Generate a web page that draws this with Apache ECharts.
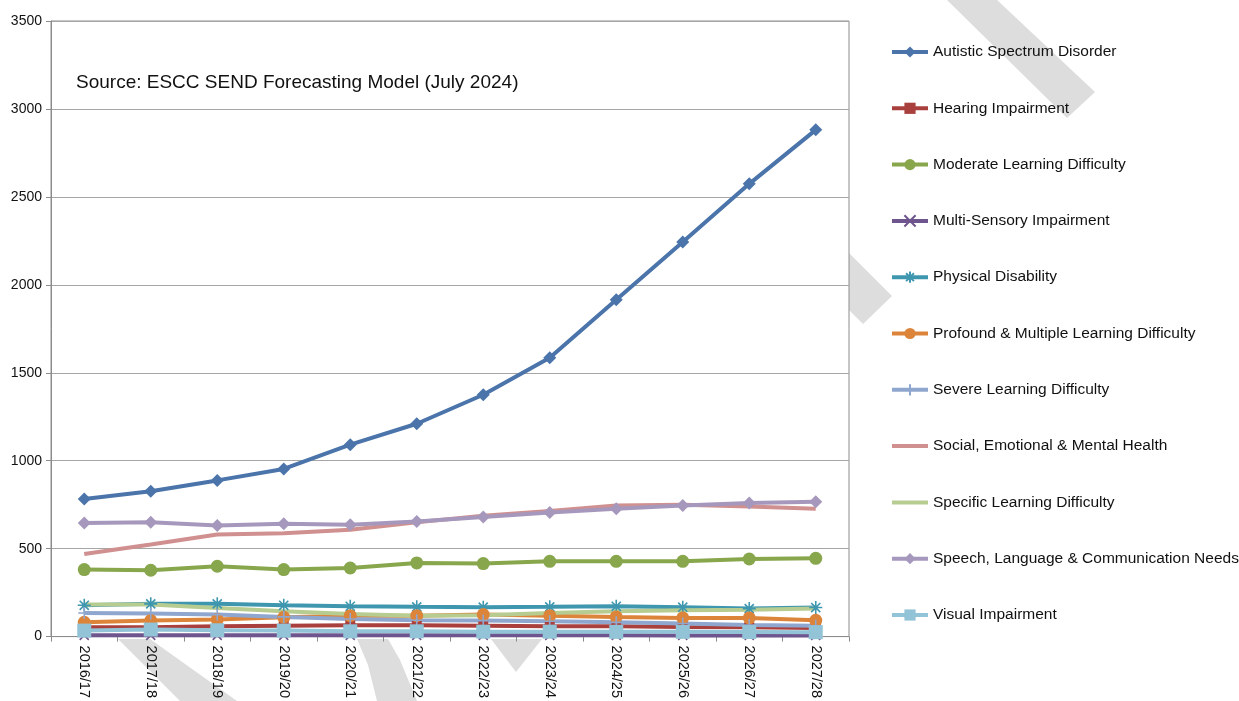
<!DOCTYPE html>
<html>
<head>
<meta charset="utf-8">
<script src="https://cdn.jsdelivr.net/npm/echarts@6/dist/echarts.min.js"></script>
<style>
html,body{margin:0;padding:0;background:#fff;}
#chart{width:1239px;height:701px;}
</style>
</head>
<body>
<div id="chart"></div>
<script>
var categories = ['2016/17','2017/18','2018/19','2019/20','2020/21','2021/22','2022/23','2023/24','2024/25','2025/26','2026/27','2027/28'];
var yTicks = [0, 500, 1000, 1500, 2000, 2500, 3000, 3500];

var asd  = [782, 826, 888, 953, 1091, 1210, 1375, 1585, 1915, 2244, 2574, 2881];
var hi   = [53, 53, 59, 62, 64, 64, 62, 59, 59, 55, 53, 49];
var mld  = [381, 377, 400, 381, 390, 419, 415, 428, 428, 428, 441, 445];
var msi  = [7, 7, 7, 7, 7, 7, 7, 7, 7, 6, 6, 6];
var pd   = [178, 186, 186, 178, 172, 169, 167, 169, 172, 167, 159, 165];
var pmld = [81, 91, 97, 110, 119, 119, 125, 119, 112, 106, 106, 93];
var sld  = [134, 131, 125, 112, 100, 93, 91, 87, 81, 74, 66, 62];
var semh = [470, 523, 580, 587, 608, 650, 687, 714, 746, 750, 740, 727];
var spld = [182, 182, 163, 144, 129, 119, 121, 134, 144, 150, 153, 159];
var slcn = [646, 650, 631, 642, 636, 655, 680, 706, 727, 746, 760, 767];
var vi   = [34, 40, 36, 34, 30, 30, 28, 28, 27, 27, 26, 25];

var names = ['Autistic Spectrum Disorder','Hearing Impairment','Moderate Learning Difficulty','Multi-Sensory Impairment','Physical Disability','Profound & Multiple Learning Difficulty','Severe Learning Difficulty','Social, Emotional & Mental Health','Specific Learning Difficulty','Speech, Language & Communication Needs','Visual Impairment'];
var colors = ['#4A74AA','#A9403D','#88A64C','#6F558E','#3F97AF','#DC853A','#8FA7CE','#D09090','#B6CC90','#A698BC','#92C3D6'];
var datasets = [asd, hi, mld, msi, pd, pmld, sld, semh, spld, slcn, vi];

var symX = 'path://M0,0L10,10M10,0L0,10';
var symAst = 'path://M0,5L10,5M5,0L5,10M1.5,1.5L8.5,8.5M8.5,1.5L1.5,8.5';
var symPlus = 'path://M5,0L5,10M0,5L10,5';
var symbols = ['diamond','rect','circle',symX,symAst,'circle',symPlus,'none','none','diamond','rect'];
var sizes = [13, 10, 13, 9, 13, 13, 12, 0, 0, 13, 14];
var FONT = 'Liberation Sans, Arial, sans-serif';

var series = names.map(function (n, i) {
  var isPath = symbols[i].indexOf('path://') === 0;
  return {
    name: n,
    type: 'line',
    data: datasets[i],
    symbol: symbols[i],
    symbolSize: sizes[i],
    showSymbol: symbols[i] !== 'none',
    lineStyle: { color: colors[i], width: 4 },
    itemStyle: isPath ? { color: colors[i], borderColor: colors[i], borderWidth: 1.6 } : { color: colors[i], borderWidth: 0 },
    emphasis: { disabled: true },
    animation: false
  };
});

var legendData = names.map(function (n, i) {
  if (symbols[i] === 'none') {
    return { name: n, icon: 'path://M0,0L36,0L36,4L0,4Z', itemStyle: { color: colors[i] } };
  }
  return { name: n };
});

var grey = '#DDDDDD';
function poly(pts) {
  return { type: 'polygon', z: -10, silent: true, shape: { points: pts }, style: { fill: grey } };
}

var chart = echarts.init(document.getElementById('chart'), null, { renderer: 'canvas' });
chart.setOption({
  backgroundColor: '#fff',
  animation: false,
  textStyle: { fontFamily: FONT },
  color: colors,
  grid: {
    left: 51, right: 390, top: 21, bottom: 64,
    show: true, backgroundColor: '#fff', borderColor: '#8C8C8C', borderWidth: 1, z: 0
  },
  legend: {
    orient: 'vertical',
    left: 890, top: 44,
    itemWidth: 36, itemHeight: 14, itemGap: 40.3,
    selectedMode: false,
    padding: 0,
    lineStyle: { width: 4 },
    textStyle: { fontSize: 15.5, color: '#111', fontFamily: FONT },
    data: legendData
  },
  xAxis: {
    type: 'category',
    data: categories,
    boundaryGap: true,
    axisLine: { lineStyle: { color: '#8C8C8C', width: 1 } },
    axisTick: { show: true, length: 5, lineStyle: { color: '#8C8C8C' } },
    axisLabel: { rotate: -90, margin: 9, fontSize: 14.5, color: '#111', fontFamily: FONT },
    splitLine: { show: false }
  },
  yAxis: {
    type: 'value',
    min: 0, max: 3500, interval: 500,
    axisLine: { show: true, lineStyle: { color: '#8C8C8C', width: 1 } },
    axisTick: { show: true, length: 5, lineStyle: { color: '#8C8C8C' } },
    axisLabel: { fontSize: 14, color: '#111', margin: 9, fontFamily: FONT,
      formatter: function (v) { return yTicks.indexOf(v) >= 0 ? String(v) : ''; } },
    splitLine: { show: true, lineStyle: { color: '#A6A6A6', width: 1 } }
  },
  graphic: [
    poly([[947,0],[997,0],[1095,92],[1067,118]]),
    poly([[849,253],[892,296],[863,324],[849,310]]),
    poly([[118,639],[150,639],[237,701],[180,701]]),
    poly([[357,639],[388,639],[400,660],[417,701],[377,701],[368,665]]),
    poly([[491,639],[542,639],[516,672]]),
    {
      type: 'text', left: 76, top: 73, z: 100, silent: true,
      style: { text: 'Source: ESCC SEND Forecasting Model (July 2024)', fontSize: 19, fill: '#111', fontFamily: FONT }
    }
  ],
  series: series
});
</script>
</body>
</html>
